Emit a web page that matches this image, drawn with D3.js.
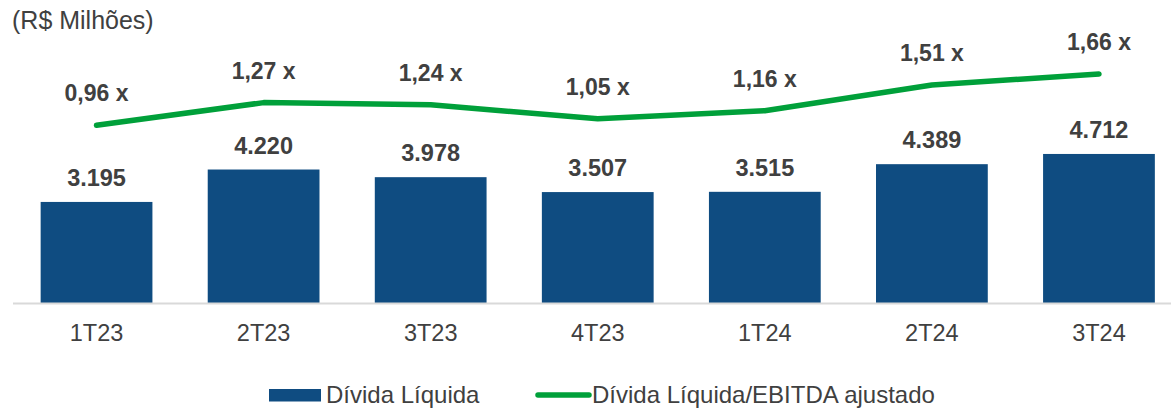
<!DOCTYPE html>
<html>
<head>
<meta charset="utf-8">
<script src="https://cdn.jsdelivr.net/npm/d3@7"></script>
<style>
  html, body { margin: 0; padding: 0; background: #fff; }
  svg { display: block; font-family: "Liberation Sans", Arial, sans-serif; }
</style>
</head>
<body>
<svg id="chart" width="1171" height="410"></svg>
<script>
const categories = ["1T23", "2T23", "3T23", "4T23", "1T24", "2T24", "3T24"];
const dividaLiquida = [3195, 4220, 3978, 3507, 3515, 4389, 4712];
const dividaEbitda = [0.96, 1.27, 1.24, 1.05, 1.16, 1.51, 1.66];
const barLabels = ["3.195", "4.220", "3.978", "3.507", "3.515", "4.389", "4.712"];
const lineLabels = ["0,96 x", "1,27 x", "1,24 x", "1,05 x", "1,16 x", "1,51 x", "1,66 x"];
const seriesNames = ["Dívida Líquida", "Dívida Líquida/EBITDA ajustado"];
const title = "(R$ Milhões)";

const barColor = "#0F4C81";
const lineColor = "#00A03A";
const textColor = "#404040";

const svg = d3.select("#chart");

const x = d3.scaleBand()
  .domain(categories)
  .range([13, 1182.5])
  .paddingInner(0.331)
  .paddingOuter(0.1655);

const baseY = 303;
const yBar = d3.scaleLinear().domain([0, 6000]).range([baseY, baseY - 6000 * 0.03163]);
const yLine = d3.scaleLinear().domain([0, 2]).range([195.7, 195.7 - 2 * 73.3]);

// title
svg.append("text")
  .attr("x", 12).attr("y", 29)
  .attr("fill", textColor)
  .attr("font-size", 25)
  .text(title);

// bars
svg.selectAll("rect.bar")
  .data(categories)
  .join("rect")
  .attr("class", "bar")
  .attr("x", d => x(d))
  .attr("width", x.bandwidth())
  .attr("y", (d, i) => yBar(dividaLiquida[i]))
  .attr("height", (d, i) => yBar(0) - yBar(dividaLiquida[i]))
  .attr("fill", barColor);

// axis baseline
svg.append("line")
  .attr("x1", 13).attr("x2", 1171)
  .attr("y1", baseY + 0.5).attr("y2", baseY + 0.5)
  .attr("stroke", "#D9D9D9").attr("stroke-width", 2);

// category labels via axis
const xAxis = d3.axisBottom(x).tickSize(0).tickPadding(0);
const gx = svg.append("g").attr("transform", `translate(0, ${baseY})`).call(xAxis);
gx.select(".domain").remove();
gx.selectAll("text")
  .attr("dy", null)
  .attr("y", 38)
  .attr("fill", textColor)
  .attr("font-size", 23.5)
  .attr("font-family", "Liberation Sans, Arial, sans-serif");

// bar labels
svg.selectAll("text.barlabel")
  .data(categories)
  .join("text")
  .attr("class", "barlabel")
  .attr("x", d => x(d) + x.bandwidth() / 2)
  .attr("y", (d, i) => yBar(dividaLiquida[i]) - 16)
  .attr("text-anchor", "middle")
  .attr("font-weight", "bold")
  .attr("font-size", 23.5)
  .attr("fill", textColor)
  .text((d, i) => barLabels[i]);

// line
const line = d3.line()
  .x((d, i) => x(categories[i]) + x.bandwidth() / 2)
  .y(d => yLine(d));

svg.append("path")
  .datum(dividaEbitda)
  .attr("d", line)
  .attr("fill", "none")
  .attr("stroke", lineColor)
  .attr("stroke-width", 5.5)
  .attr("stroke-linecap", "round")
  .attr("stroke-linejoin", "round");

// line labels
svg.selectAll("text.linelabel")
  .data(categories)
  .join("text")
  .attr("class", "linelabel")
  .attr("x", d => x(d) + x.bandwidth() / 2)
  .attr("y", (d, i) => yLine(dividaEbitda[i]) - 24)
  .attr("text-anchor", "middle")
  .attr("font-weight", "bold")
  .attr("font-size", 23)
  .attr("fill", textColor)
  .text((d, i) => lineLabels[i]);

// legend
const lg = svg.append("g");
lg.append("rect")
  .attr("x", 269).attr("y", 389)
  .attr("width", 52).attr("height", 12.5)
  .attr("fill", barColor);
lg.append("text")
  .attr("x", 326).attr("y", 402.5)
  .attr("font-size", 24)
  .attr("fill", textColor)
  .text(seriesNames[0]);
lg.append("line")
  .attr("x1", 538).attr("x2", 589)
  .attr("y1", 395).attr("y2", 395)
  .attr("stroke", lineColor)
  .attr("stroke-width", 5.5)
  .attr("stroke-linecap", "round");
lg.append("text")
  .attr("x", 592).attr("y", 402.5)
  .attr("font-size", 24)
  .attr("fill", textColor)
  .text(seriesNames[1]);
</script>
</body>
</html>
